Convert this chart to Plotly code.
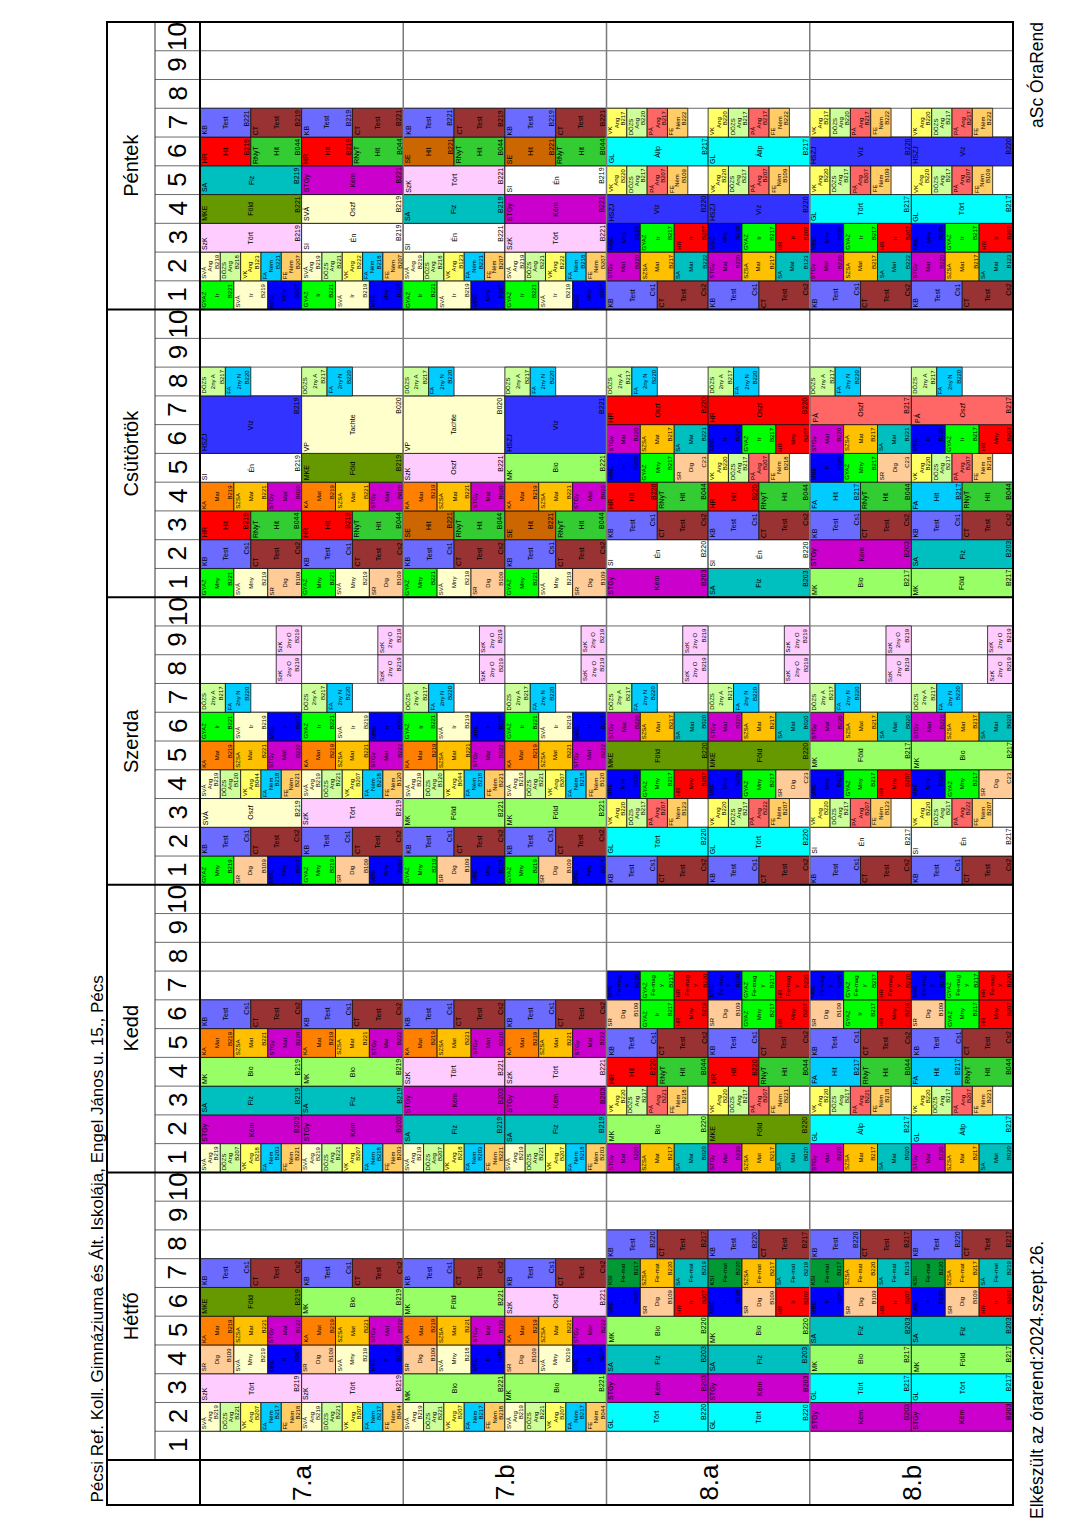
import plotly.graph_objects as go

# ---------------- data ----------------
days = ["Hétfő", "Kedd", "Szerda", "Csütörtök", "Péntek"]
classes = ["7.a", "7.b", "8.a", "8.b"]
period_labels = ["1", "2", "3", "4", "5", "6", "7", "8", "9", "10"]

title_text = "Pécsi Ref. Koll. Gimnáziuma és Ált. Iskolája, Engel János u. 15., Pécs"
made_text = "Elkészült az órarend:2024.szept.26."
brand_text = "aSc ÓraRend"

teacher_colors = {
    "KB": "#6B6BFF", "CT": "#993333", "SVÁ": "#FFFFCC", "DÖZS": "#CCFF99",
    "VK": "#FFFF66", "FA": "#00CCFF", "FE": "#FFCC66", "SzK": "#FFCCFF",
    "SR": "#FFCC99", "KA": "#FF8000", "SZSA": "#FFC000", "STGy": "#CC00CC",
    "MKE": "#669900", "MK": "#99FF66", "SA": "#00BFBF", "GL": "#00FFFF",
    "GYAZ": "#00FF00", "HR": "#FF0000", "RNyT": "#33CC33", "SE": "#CC6600",
    "HSZJ": "#3333FF", "MBE": "#0000FF", "SI": "#FFFFFF", "VP": "#FFFFCC",
    "PÁ": "#FF6666", "KSI": "#009933",
}

# cell = "teacher/subject/room;..." groups side by side; "" = empty slot
# a tuple gives the two half-rows separately; "^" continues the lesson above
TEST = "KB/Test/Cs1;CT/Test/Cs2"
NY2 = "DÖZS/2ny A/B217;FA/2ny N/B220;;"
NYO = ";;;SzK/2ny O/B219"

hetfo_7a = ["",
            ("SVÁ/Ang/B219;DÖZS/Ang/B221;VK/Ang/B207;FA/Ném/B217;FE/Ném/B218",
             "SVÁ/Ang/B219;DÖZS/Ang/B221;VK/Ang/B207;FA/Ném/B217;FE/Ném/B044"),
            "SzK/Tört/B219",
            "SR/Dig/B109;SVÁ/Mny/B219;MBE/Ir/B207",
            ("KA/Mat/B219;SZSA/Mat/B221;STGy/Mat/B122", "KA/Mat/B219;SZSA/Mat/B221;STGy/Mat/B222"),
            ("MKE/Föld/B219", "MK/Bio/B219"),
            TEST]
hetfo_7b = ["",
            ("SVÁ/Ang/B219;DÖZS/Ang/B221;VK/Ang/B207;FA/Ném/B217;FE/Ném/B218",
             "SVÁ/Ang/B219;DÖZS/Ang/B221;VK/Ang/B207;FA/Ném/B217;FE/Ném/B044"),
            "MK/Bio/B221",
            ("SR/Dig/B109;SVÁ/Mny/B218;MBE/Ir/B207", "SR/Dig/B109;SVÁ/Mny/B219;MBE/Ir/B207"),
            ("KA/Mat/B219;SZSA/Mat/B221;STGy/Mat/B122", "KA/Mat/B219;SZSA/Mat/B221;STGy/Mat/B222"),
            ("MK/Föld/B221", "SzK/Oszf/B221"),
            TEST]
hetfo_8a = ["",
            "GL/Tört/B220",
            "STGy/Kém/B203",
            "SA/Fiz/B203",
            "MK/Bio/B220",
            "MBE/Ir/B220;SR/Dig/B109;HR/Ir/B207",
            ("KSI/Fe-mat/B217;SZSA/Fe-mat/B220;SA/Fe-mat/B219", "KSI/Fe-mat/B220;SZSA/Fe-mat/B217;SA/Fe-mat/B219"),
            "KB/Test/B220;CT/Test/B217"]
hetfo_8b = ["",
            "STGy/Kém/B203",
            "GL/Tört/B217",
            ("MK/Bio/B217", "MK/Föld/B217"),
            "SA/Fiz/B203",
            "MBE/Ir/B220;SR/Dig/B109;HR/Ir/B207",
            ("KSI/Fe-mat/B217;SZSA/Fe-mat/B220;SA/Fe-mat/B219", "KSI/Fe-mat/B220;SZSA/Fe-mat/B217;SA/Fe-mat/B219"),
            "KB/Test/B220;CT/Test/B217"]

kedd_7a = [("SVÁ/Ang/B219;DÖZS/Ang/B207;VK/Ang/B218;FA/Ném/B203;FE/Ném/B221",
            "SVÁ/Ang/B219;DÖZS/Ang/B221;VK/Ang/B207;FA/Ném/B218;FE/Ném/B203"),
           "STGy/Kém/B203",
           "SA/Fiz/B219",
           "MK/Bio/B219",
           ("KA/Mat/B219;SZSA/Mat/B221;STGy/Mat/B220", "KA/Mat/B219;SZSA/Mat/B221;STGy/Mat/B222"),
           TEST]
kedd_7b = [("SVÁ/Ang/B219;DÖZS/Ang/B207;VK/Ang/B218;FA/Ném/B203;FE/Ném/B221",
            "SVÁ/Ang/B219;DÖZS/Ang/B221;VK/Ang/B207;FA/Ném/B218;FE/Ném/B203"),
           "SA/Fiz/B219",
           "STGy/Kém/B203",
           "SzK/Tört/B221",
           ("KA/Mat/B219;SZSA/Mat/B221;STGy/Mat/B220", "KA/Mat/B219;SZSA/Mat/B221;STGy/Mat/B222"),
           TEST]
kedd_8a = ["STGy/Mat/B220;SZSA/Mat/B217;SA/Mat/B020",
           ("MK/Bio/B220", "MKE/Föld/B220"),
           ("VK/Ang/B220;DÖZS/Ang/B217;PÁ/Ang/B221;FE/Ném/B218;", "VK/Ang/B220;DÖZS/Ang/B217;PÁ/Ang/B207;FE/Ném/B221;"),
           "HR/Hit/B220;RNyT/Hit/B044",
           TEST,
           ("SR/Dig/B109;GYAZ/Ir/B217;HR/Mny/B219", "SR/Dig/B109;GYAZ/Mny/B217;HR/Mny/B207"),
           "MBE/Fe-mag<br>y/B220;GYAZ/Fe-mag<br>y/B217;HR/Fe-mag<br>y/B220"]
kedd_8b = ["STGy/Mat/B220;SZSA/Mat/B217;SA/Mat/B020",
           "GL/Állp/B217",
           ("VK/Ang/B220;DÖZS/Ang/B217;PÁ/Ang/B221;FE/Ném/B218;", "VK/Ang/B220;DÖZS/Ang/B217;PÁ/Ang/B207;FE/Ném/B221;"),
           "FA/Hit/B217;RNyT/Hit/B044",
           TEST,
           ("SR/Dig/B109;GYAZ/Ir/B217;HR/Mny/B219", "SR/Dig/B109;GYAZ/Mny/B217;HR/Mny/B207"),
           "MBE/Fe-mag<br>y/B220;GYAZ/Fe-mag<br>y/B217;HR/Fe-mag<br>y/B220"]

szerda_7a = ["GYAZ/Mny/B219;SR/Dig/B109;MBE/Mny/B207",
             TEST,
             ("SVÁ/Oszf/B219", "SzK/Tört/B219"),
             ("SVÁ/Ang/B219;DÖZS/Ang/B120;VK/Ang/B044;FA/Ném/B218;FE/Ném/B221",
              "SVÁ/Ang/B219;DÖZS/Ang/B221;VK/Ang/B207;FA/Ném/B218;FE/Ném/B120"),
             "KA/Mat/B219;SZSA/Mat/B221;STGy/Mat/B222",
             "GYAZ/Ir/B221;SVÁ/Ir/B219;MBE/Ir/B207",
             NY2, NYO, NYO]
szerda_7b = ["GYAZ/Mny/B219;SR/Dig/B109;MBE/Mny/B207",
             TEST,
             "MK/Föld/B221",
             ("SVÁ/Ang/B219;DÖZS/Ang/B120;VK/Ang/B044;FA/Ném/B218;FE/Ném/B221",
              "SVÁ/Ang/B219;DÖZS/Ang/B221;VK/Ang/B207;FA/Ném/B218;FE/Ném/B120"),
             "KA/Mat/B219;SZSA/Mat/B221;STGy/Mat/B222",
             "GYAZ/Ir/B221;SVÁ/Ir/B219;MBE/Ir/B207",
             NY2, NYO, NYO]
szerda_8a = [TEST,
             "GL/Tört/B220",
             ("VK/Ang/B220;DÖZS/Ang/B217;PÁ/Ang/B207;FE/Ném/B123;", "VK/Ang/B220;DÖZS/Ang/B217;PÁ/Ang/B222;FE/Ném/B207;"),
             ("MBE/Mny/B220;GYAZ/Mny/B217;HR/Mny/B207", "MBE/Mny/B220;GYAZ/Mny/B217;SR/Dig/C23"),
             "MKE/Föld/B220",
             "STGy/Mat/B220;SZSA/Mat/B217;SA/Mat/B020",
             NY2, NYO, NYO]
szerda_8b = [TEST,
             "SI/Én/B217",
             ("VK/Ang/B220;DÖZS/Ang/B217;PÁ/Ang/B207;FE/Ném/B123;", "VK/Ang/B220;DÖZS/Ang/B217;PÁ/Ang/B222;FE/Ném/B207;"),
             ("MBE/Mny/B220;GYAZ/Mny/B217;HR/Mny/B207", "MBE/Mny/B220;GYAZ/Mny/B217;SR/Dig/C23"),
             ("MK/Föld/B217", "MK/Bio/B217"),
             "STGy/Mat/B220;SZSA/Mat/B217;SA/Mat/B020",
             NY2, NYO, NYO]

csutortok_7a = ["GYAZ/Mny/B221;SVÁ/Mny/B219;SR/Dig/B109",
                TEST,
                "HR/Hit/B219;RNyT/Hit/B044",
                "KA/Mat/B219;SZSA/Mat/B221;STGy/Mat/B020",
                ("SI/Én/B219", "MKE/Föld/B219"),
                ("HSZJ/Víz/B219", "VP/Tachte/B020"),
                "^",
                NY2]
csutortok_7b = ["GYAZ/Mny/B221;SVÁ/Mny/B219;SR/Dig/B109",
                TEST,
                "SE/Hit/B221;RNyT/Hit/B044",
                "KA/Mat/B219;SZSA/Mat/B221;STGy/Mat/B020",
                ("SzK/Oszf/B221", "MK/Bio/B221"),
                ("VP/Tachte/B020", "HSZJ/Víz/B221"),
                "^",
                NY2]
csutortok_8a = [("STGy/Kém/B203", "SA/Fiz/B203"),
                "SI/Én/B220",
                TEST,
                "HR/Hit/B220;RNyT/Hit/B044",
                ("MBE/Ir/B220;GYAZ/Mny/B217;SR/Dig/C23", "VK/Ang/B220;DÖZS/Ang/B217;PÁ/Ang/B207;FE/Ném/B218;"),
                ("STGy/Mat/B220;SZSA/Mat/B217;SA/Mat/B221", "MBE/Ir/B220;GYAZ/Ir/B217;HR/Mny/B207"),
                "HR/Oszf/B220",
                NY2]
csutortok_8b = [("MK/Bio/B217", "MK/Föld/B217"),
                ("STGy/Kém/B203", "SA/Fiz/B203"),
                TEST,
                "FA/Hit/B217;RNyT/Hit/B044",
                ("MBE/Ir/B220;GYAZ/Mny/B217;SR/Dig/C23", "VK/Ang/B220;DÖZS/Ang/B217;PÁ/Ang/B207;FE/Ném/B218;"),
                ("STGy/Mat/B220;SZSA/Mat/B217;SA/Mat/B221", "MBE/Ir/B220;GYAZ/Ir/B217;HR/Mny/B207"),
                "PÁ/Oszf/B217",
                NY2]

pentek_7a = ["GYAZ/Ir/B221;SVÁ/Ir/B219;MBE/Mny/B207",
             ("SVÁ/Ang/B219;DÖZS/Ang/B218;VK/Ang/B123;FA/Ném/B221;FE/Ném/B207",
              "SVÁ/Ang/B219;DÖZS/Ang/B221;VK/Ang/B222;FA/Ném/B218;FE/Ném/B207"),
             ("SzK/Tört/B219", "SI/Én/B219"),
             ("MKE/Föld/B221", "SVÁ/Oszf/B219"),
             ("SA/Fiz/B219", "STGy/Kém/B221"),
             "HR/Hit/B219;RNyT/Hit/B044",
             ("KB/Test/B221;CT/Test/B219", "KB/Test/B219;CT/Test/B221")]
pentek_7b = ["GYAZ/Ir/B221;SVÁ/Ir/B219;MBE/Mny/B207",
             ("SVÁ/Ang/B219;DÖZS/Ang/B218;VK/Ang/B123;FA/Ném/B221;FE/Ném/B207",
              "SVÁ/Ang/B219;DÖZS/Ang/B221;VK/Ang/B222;FA/Ném/B218;FE/Ném/B207"),
             ("SI/Én/B221", "SzK/Tört/B221"),
             ("SA/Fiz/B219", "STGy/Kém/B221"),
             ("SzK/Tört/B221", "SI/Én/B219"),
             "SE/Hit/B221;RNyT/Hit/B044",
             ("KB/Test/B221;CT/Test/B219", "KB/Test/B219;CT/Test/B221")]
pentek_8a = [TEST,
             ("STGy/Mat/B220;SZSA/Mat/B217;SA/Mat/B222", "STGy/Mat/B220;SZSA/Mat/B217;SA/Mat/B123"),
             "MBE/Mny/B220;GYAZ/Ir/B217;HR/Ir/B207",
             "HSZJ/Víz/B220",
             "VK/Ang/B220;DÖZS/Ang/B217;PÁ/Ang/B207;FE/Ném/B109;",
             "GL/Állp/B217",
             ("VK/Ang/B217;DÖZS/Ang/B220;PÁ/Ang/B217;FE/Ném/B222;", "VK/Ang/B220;DÖZS/Ang/B217;PÁ/Ang/B217;FE/Ném/B222;")]
pentek_8b = [TEST,
             ("STGy/Mat/B220;SZSA/Mat/B217;SA/Mat/B222", "STGy/Mat/B220;SZSA/Mat/B217;SA/Mat/B123"),
             "MBE/Mny/B220;GYAZ/Ir/B217;HR/Ir/B207",
             "GL/Tört/B217",
             "VK/Ang/B220;DÖZS/Ang/B217;PÁ/Ang/B207;FE/Ném/B109;",
             "HSZJ/Víz/B220",
             ("VK/Ang/B217;DÖZS/Ang/B220;PÁ/Ang/B217;FE/Ném/B222;", "VK/Ang/B220;DÖZS/Ang/B217;PÁ/Ang/B217;FE/Ném/B222;")]

schedule = {
    ("7.a", "Hétfő"): hetfo_7a, ("7.b", "Hétfő"): hetfo_7b,
    ("8.a", "Hétfő"): hetfo_8a, ("8.b", "Hétfő"): hetfo_8b,
    ("7.a", "Kedd"): kedd_7a, ("7.b", "Kedd"): kedd_7b,
    ("8.a", "Kedd"): kedd_8a, ("8.b", "Kedd"): kedd_8b,
    ("7.a", "Szerda"): szerda_7a, ("7.b", "Szerda"): szerda_7b,
    ("8.a", "Szerda"): szerda_8a, ("8.b", "Szerda"): szerda_8b,
    ("7.a", "Csütörtök"): csutortok_7a, ("7.b", "Csütörtök"): csutortok_7b,
    ("8.a", "Csütörtök"): csutortok_8a, ("8.b", "Csütörtök"): csutortok_8b,
    ("7.a", "Péntek"): pentek_7a, ("7.b", "Péntek"): pentek_7b,
    ("8.a", "Péntek"): pentek_8a, ("8.b", "Péntek"): pentek_8b,
}

# ---------------- layout constants ----------------
FONT = "Liberation Sans, Arial, sans-serif"
NP = len(period_labels)
NX = 2 * len(classes)
NY = NP * len(days)
X_DAY = -0.9151      # left edge of day-name column
X_PER = -0.4428      # left edge of period-number column
Y_CLS = -1.5647      # bottom of class-label row
X_RANGE = [-1.9680, 8.6593]
Y_RANGE = [-2.3644, 50.7650]

shapes = []
annotations = []


def line(x0, y0, x1, y1, color, width):
    shapes.append(dict(type="line", xref="x", yref="y", x0=x0, y0=y0, x1=x1, y1=y1,
                       line=dict(color=color, width=width)))


def halves(entry):
    return entry if isinstance(entry, tuple) else (entry, entry)


# thin period lines (below the cells)
for d in range(len(days)):
    for k in range(1, NP):
        line(X_PER, d * NP + k, NX, d * NP + k, "#6a6a6a", 1)

# lesson cells
for ci, cls in enumerate(classes):
    for di, day in enumerate(days):
        plan = list(schedule[(cls, day)]) + [""] * (NP - len(schedule[(cls, day)]))
        for h in range(2):
            xa = 2 * ci + h
            for p in range(NP):
                spec = halves(plan[p])[h]
                if not spec or spec == "^":
                    continue
                span = 1
                while p + span < NP and halves(plan[p + span])[h] == "^":
                    span += 1
                ya = di * NP + p
                yb = ya + span
                groups = spec.split(";")
                n = len(groups)
                fs = 7 if n <= 2 else 6
                for k, g in enumerate(groups):
                    if not g:
                        continue
                    t, s, r = g.split("/")
                    gx0 = xa + k / n
                    gx1 = xa + (k + 1) / n
                    shapes.append(dict(type="rect", xref="x", yref="y", x0=gx0, x1=gx1, y0=ya, y1=yb,
                                       fillcolor=teacher_colors.get(t, "#FFFFFF"),
                                       line=dict(color="rgba(20,20,20,0.8)", width=1)))
                    common = dict(xref="x", yref="y", showarrow=False, textangle=-90,
                                  font=dict(family=FONT, size=fs, color="black"), borderpad=0)
                    annotations.append(dict(x=gx0, y=ya, text=t, xanchor="left", yanchor="bottom",
                                            xshift=0, yshift=1, **common))
                    annotations.append(dict(x=(gx0 + gx1) / 2, y=(ya + yb) / 2, text=s,
                                            xanchor="center", yanchor="middle", **common))
                    annotations.append(dict(x=gx1, y=yb, text=r, xanchor="right", yanchor="top",
                                            xshift=0, yshift=-1, **common))

# structural lines (above the cells)
for c in range(1, len(classes)):
    line(2 * c, Y_CLS, 2 * c, NY, "#7a7a7a", 1.5)
line(X_PER, 0, X_PER, NY, "#333333", 1)
for d in range(1, len(days)):
    line(X_DAY, d * NP, NX, d * NP, "black", 2)
line(X_DAY, 0, NX, 0, "black", 2)
line(0, Y_CLS, 0, NY, "black", 2)
shapes.append(dict(type="rect", xref="x", yref="y", x0=X_DAY, x1=NX, y0=Y_CLS, y1=NY,
                   line=dict(color="black", width=2), fillcolor="rgba(0,0,0,0)"))

# header texts
for di, day in enumerate(days):
    annotations.append(dict(x=(X_DAY + X_PER) / 2, y=di * NP + NP / 2, text=day, xref="x", yref="y",
                            showarrow=False, textangle=-90, font=dict(family=FONT, size=20, color="black")))
    for p, lab in enumerate(period_labels):
        annotations.append(dict(x=X_PER / 2, y=di * NP + p + 0.5, text=lab, xref="x", yref="y",
                                showarrow=False, textangle=-90, font=dict(family=FONT, size=26, color="black")))
for ci, cls in enumerate(classes):
    annotations.append(dict(x=2 * ci + 1, y=Y_CLS / 2, text=cls, xref="x", yref="y",
                            showarrow=False, textangle=-90, font=dict(family=FONT, size=26, color="black")))

annotations.append(dict(x=-1.0135, y=Y_CLS, text=title_text, xref="x", yref="y", showarrow=False,
                        textangle=-90, xanchor="center", yanchor="bottom",
                        font=dict(family=FONT, size=17, color="black")))
annotations.append(dict(x=8.2362, y=-2.121, text=made_text, xref="x", yref="y", showarrow=False,
                        textangle=-90, xanchor="center", yanchor="bottom",
                        font=dict(family=FONT, size=17.5, color="black")))
annotations.append(dict(x=8.2362, y=50.07, text=brand_text, xref="x", yref="y", showarrow=False,
                        textangle=-90, xanchor="center", yanchor="top",
                        font=dict(family=FONT, size=17.5, color="black")))

fig = go.Figure(go.Scatter(x=[], y=[], showlegend=False))
fig.update_layout(
    width=1080, height=1528,
    margin=dict(l=0, r=0, t=0, b=0),
    paper_bgcolor="white", plot_bgcolor="white",
    xaxis=dict(range=X_RANGE, visible=False, fixedrange=True),
    yaxis=dict(range=Y_RANGE, visible=False, fixedrange=True),
    shapes=shapes, annotations=annotations, showlegend=False,
)
fig.write_html("out.html", config={"displayModeBar": False, "staticPlot": True},
               post_script="document.body.style.margin='0';document.body.style.overflow='hidden';")
